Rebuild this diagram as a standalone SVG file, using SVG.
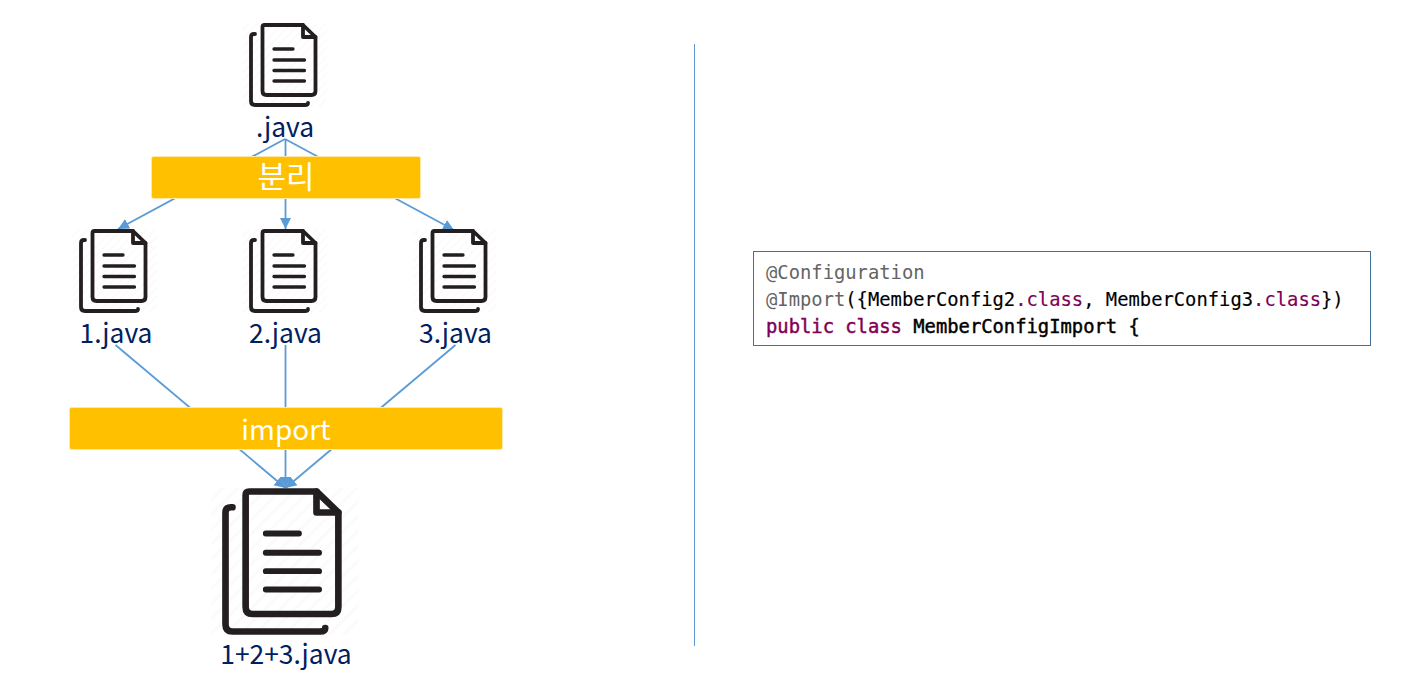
<svg xmlns="http://www.w3.org/2000/svg" width="1423" height="689" viewBox="0 0 1423 689">
<style>
.lbl{font-family:"Noto Sans CJK KR","Open Sans",sans-serif;font-size:26.400px;fill:#002060;text-anchor:middle}
.bar{fill:#FFC000;stroke:#FFE9A8;stroke-width:1}
.bt{font-family:"Noto Sans CJK KR","Open Sans",sans-serif;fill:#fff;text-anchor:middle}
.cn{fill:none;stroke:#5B9BD5;stroke-width:1.800}
.code{font-family:"DejaVu Sans Mono","Liberation Mono",monospace;font-size:18.820px;fill:#000}
.b{stroke:#000;stroke-width:.15}
.k{fill:#7F0055;stroke:#7F0055;stroke-width:.45}
.m{stroke:#000;stroke-width:.45}
.c{fill:#7F0055;stroke:#7F0055;stroke-width:.15}
.a{fill:#646464}
.i{fill:none;stroke:#231F20;stroke-linecap:round;stroke-linejoin:round}
</style>
<defs>
<pattern id="h" width="6" height="6" patternUnits="userSpaceOnUse" patternTransform="rotate(45)"><rect width="6" height="6" fill="#fff"/><rect width="1.500" height="6" fill="#fafafa"/></pattern>
<marker id="ah" markerUnits="userSpaceOnUse" markerWidth="14" markerHeight="14" refX="11" refY="7" orient="auto"><path d="M0 1.500L11 7L0 12.500Z" fill="#5B9BD5"/></marker>
<g id="doc">
<rect x="243" y="23" width="84" height="84" fill="url(#h)"/>
<path class="i" stroke-width="3.800" d="M264.500 25H303L315.500 37V91Q315.500 95 311.500 95H266.500Q262.500 95 262.500 91V27Q262.500 25 264.500 25Z" fill="#fff"/>
<path class="i" stroke-width="3.800" d="M303 25V37H315.500"/>
<path class="i" stroke-width="3.800" d="M255 34H254Q251 34 251 37V101Q251 105 255 105H305Q308 105 308 103"/>
<path class="i" stroke-width="3.300" d="M274 49H293M274 60H304.500M274 70.500H304.500M274 81H304.500"/>
</g>
</defs>
<rect width="1423" height="689" fill="#fff"/>
<g id="connectors">
<path class="cn" marker-end="url(#ah)" d="M285 139L118 229"/>
<path class="cn" marker-end="url(#ah)" d="M285.500 139V229"/>
<path class="cn" marker-end="url(#ah)" d="M285 139L454 230"/>
<path class="cn" marker-end="url(#ah)" d="M115.500 345L285.500 488"/>
<path class="cn" marker-end="url(#ah)" d="M285.500 345V488"/>
<path class="cn" marker-end="url(#ah)" d="M455.500 345L285.500 488"/>
</g>
<g id="node-source"><use href="#doc"/><text class="lbl" x="285" y="137">.java</text></g>
<g id="node-split"><rect class="bar" x="151.500" y="156.500" width="269" height="42" rx="2"/><text class="bt" font-size="31" x="286" y="188">분리</text></g>
<g id="node-1"><use href="#doc" transform="translate(-170 206)"/><text class="lbl" x="116" y="343">1.java</text></g>
<g id="node-2"><use href="#doc" transform="translate(0 206)"/><text class="lbl" x="285.500" y="343">2.java</text></g>
<g id="node-3"><use href="#doc" transform="translate(170 206)"/><text class="lbl" x="455.500" y="343">3.java</text></g>
<g id="node-import"><rect class="bar" x="69.500" y="407.500" width="433" height="42" rx="2"/><text class="bt" font-size="28" x="286" y="440">import</text></g>
<g id="node-merged"><use href="#doc" transform="translate(285 488) scale(1.75) translate(-285 -23)"/><text class="lbl" x="286" y="664">1+2+3.java</text></g>
<line id="divider" x1="694.500" y1="44" x2="694.500" y2="646" stroke="#5B9BD5" stroke-width="1"/>
<g id="code-box"><rect x="753.500" y="251.500" width="617" height="94" fill="#fff" stroke="#41719C" stroke-width="1"/>
<text class="code" x="766" y="279"><tspan class="a">@Configuration</tspan></text>
<text class="code" x="766" y="306"><tspan class="a">@Import</tspan><tspan class="b">({MemberConfig2</tspan><tspan class="c">.class</tspan><tspan class="b">, MemberConfig3</tspan><tspan class="c">.class</tspan><tspan class="b">})</tspan></text>
<text class="code" x="766" y="333"><tspan class="k">public class</tspan> <tspan class="m">MemberConfigImport {</tspan></text>
</g>
</svg>
